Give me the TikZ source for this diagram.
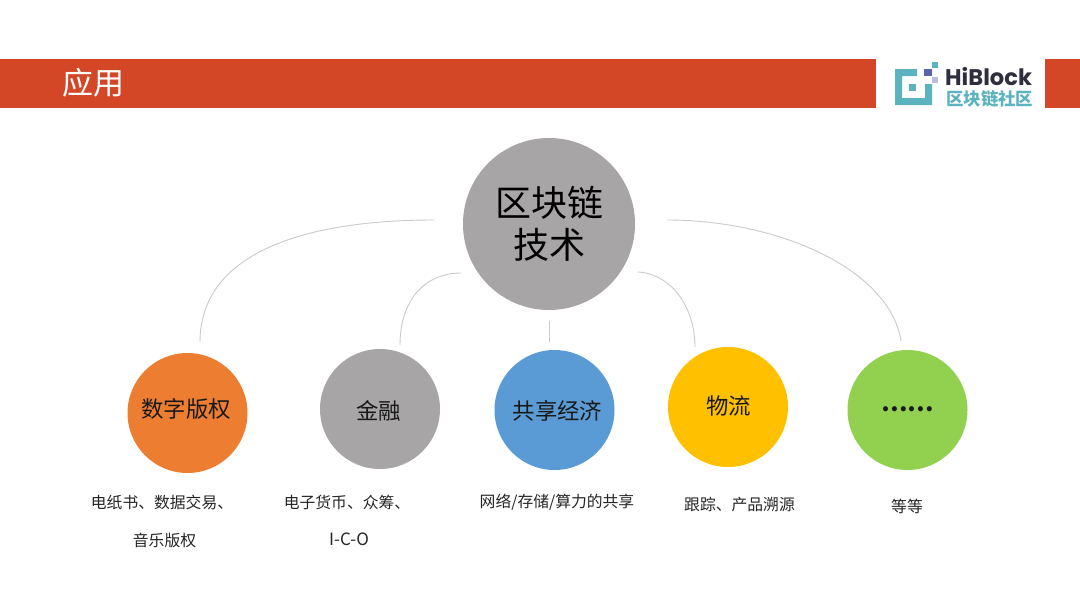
\documentclass[tikz,border=0pt]{standalone}
\usepackage{fontspec}
\setmainfont{Noto Sans CJK SC}
\newfontfamily\logofont{Poppins}
\definecolor{barred}{HTML}{D34727}
\definecolor{hubgray}{HTML}{A7A5A6}
\definecolor{curvegray}{HTML}{CACAD0}
\definecolor{cOrange}{HTML}{ED7D31}
\definecolor{cBlue}{HTML}{5B9BD5}
\definecolor{cYellow}{HTML}{FFC000}
\definecolor{cGreen}{HTML}{92D050}
\definecolor{logoteal}{HTML}{5AB3BE}
\definecolor{logoblue}{HTML}{5B62AE}
\definecolor{logolight}{HTML}{B9BCDC}
\definecolor{logodark}{HTML}{2E2E3F}
\tikzset{
 x=1pt,y=-1pt,
 hub/.style={circle,fill=hubgray,minimum size=172pt,inner sep=0pt,font=\fontsize{36}{44}\selectfont,align=center,text=black},
 topic/.style={circle,minimum size=120pt,inner sep=0pt},
 topictext/.style={font=\fontsize{22.4}{26}\selectfont,text=black!90,inner sep=0pt},
 link/.style={draw=curvegray,line width=0.9pt},
 caption/.style={font=\fontsize{15.8}{34}\selectfont,text=black!85,align=center,inner sep=0pt},
 bar/.style={fill=barred,draw=none},
}
\begin{document}
\begin{tikzpicture}
\useasboundingbox (0,0) rectangle (1080,608);
\fill[white] (0,0) rectangle (1080,608);
\fill[bar] (0,59) rectangle (876,108);
\fill[bar] (1045,59) rectangle (1080,108);
\node[text=white,font=\fontsize{31}{34}\selectfont,inner sep=0pt] (title) at (93,83) {应用};
% logo
\fill[logoteal] (895,69) -- (917,69) -- (917,76) -- (902,76) -- (902,98) -- (925,98) -- (925,84) -- (932,84) -- (932,105) -- (895,105) -- cycle;
\fill[logoteal] (909,84) rectangle (916,91);
\fill[logoteal] (932,62) rectangle (938,68);
\fill[logoblue] (924,69) rectangle (932,76);
\fill[logolight] (932,77) rectangle (938,83);
\node[text=logodark,font=\logofont\bfseries\fontsize{22.6}{23}\selectfont,inner sep=0pt,anchor=base west] (logoname) at (945,85) {HiBlock};
\node[text=logoteal,font=\bfseries\fontsize{17.4}{20}\selectfont,inner sep=0pt,anchor=base west] (logocn) at (946,105.5) {区块链社区};
% circles
\node[hub] (hub) at (549,224) {区块链\\[-2pt]技术};
\node[topic,fill=cOrange] (a) at (187.5,413) {};
\node[topic,fill=hubgray] (b) at (380,409) {};
\node[topic,fill=cBlue] (c) at (554.5,410) {};
\node[topic,fill=cYellow] (d) at (728,407) {};
\node[topic,fill=cGreen] (e) at (907.5,410) {};
\node[topictext] (ta) at (186,409) {数字版权};
\node[topictext] (tb) at (378.5,411) {金融};
\node[topictext] (tc) at (557.5,411) {共享经济};
\node[topictext] (td) at (728.5,406) {物流};
\node[topictext,font=\bfseries\fontsize{23.5}{26}\selectfont] (te) at (907.5,409) {……};
% connector ends
\coordinate (s1) at (434,220); \coordinate (e1) at (200,342);
\coordinate (s2) at (461,273); \coordinate (e2) at (400,345);
\coordinate (s3) at (549,321); \coordinate (e3) at (549,342);
\coordinate (s4) at (638,272); \coordinate (e4) at (695,347);
\coordinate (s5) at (667,220); \coordinate (e5) at (901,341);
\draw[link] (s1) .. controls (300,220) and (200,255) .. (e1);
\draw[link] (s2) .. controls (425,273) and (400,300) .. (e2);
\draw[link] (s3) -- (e3);
\draw[link] (s4) .. controls (672,274) and (695,308) .. (e4);
\draw[link] (s5) .. controls (780,220) and (890,270) .. (e5);
% captions
\node[caption] (ca) at (162,502) {电纸书、数据交易、};
\node[caption] (ca2) at (164.5,540) {音乐版权};
\node[caption] (cb) at (347,502) {电子货币、众筹、};
\node[caption,font=\fontsize{17}{34}\selectfont] (cb2) at (349,539) {I-C-O};
\node[caption] (cc) at (557,502) {网络/存储/算力的共享};
\node[caption] (cd) at (739.5,505) {跟踪、产品溯源};
\node[caption] (ce) at (907,506) {等等};
\end{tikzpicture}
\end{document}
